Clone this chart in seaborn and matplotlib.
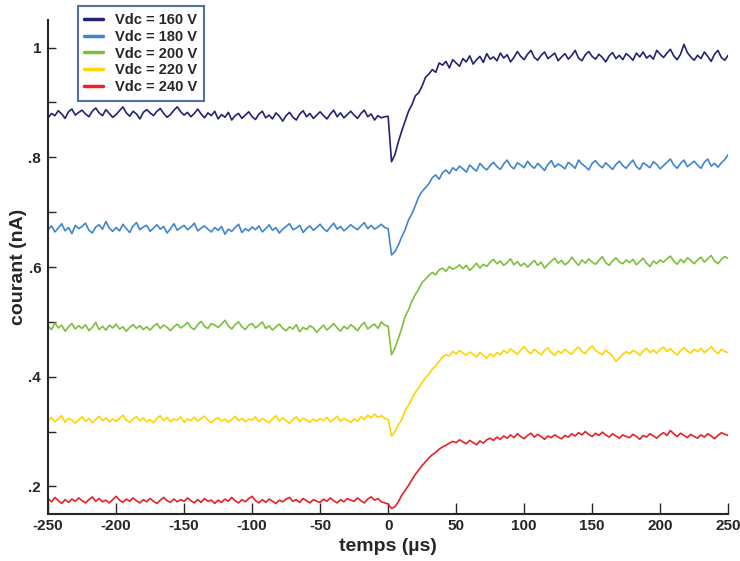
import numpy as np
import pandas as pd
import seaborn as sns
import matplotlib.pyplot as plt
from matplotlib.ticker import MultipleLocator

sns.set_style("ticks")
plt.rcParams["font.family"] = ["Liberation Sans", "DejaVu Sans"]
plt.rcParams["axes.unicode_minus"] = False

# time axis (µs), one reading every 2.5 µs
t = np.arange(-250, 250.1, 2.5)

labels = ["Vdc = 160 V", "Vdc = 180 V", "Vdc = 200 V", "Vdc = 220 V", "Vdc = 240 V"]
colors = ["#232372", "#3f86cb", "#7dbf3c", "#ffd400", "#e8202a"]

xtick_vals = [-250, -200, -150, -100, -50, 0, 50, 100, 150, 200, 250]
xtick_labels = ["-250", "-200", "-150", "-100", "-50", "0", "50", "100", "150", "200", "250"]
ytick_vals = [0.2, 0.4, 0.6, 0.8, 1.0]
ytick_labels = [".2", ".4", ".6", ".8", "1"]

# courant (nA)
i160 = [
    .872, .880, .876, .885, .879, .871, .883, .888, .877, .882,
    .886, .879, .874, .884, .890, .881, .876, .887, .880, .873,
    .878, .885, .892, .881, .875, .884, .879, .870, .882, .887,
    .881, .876, .884, .889, .880, .873, .878, .886, .892, .883,
    .877, .882, .874, .880, .888, .879, .872, .881, .876, .884,
    .870, .878, .873, .882, .868, .876, .880, .871, .877, .883,
    .874, .869, .879, .884, .872, .877, .870, .881, .875, .866,
    .876, .882, .873, .868, .879, .885, .874, .880, .871, .877,
    .883, .876, .870, .879, .886, .874, .881, .872, .878, .884,
    .877, .871, .880, .886, .874, .879, .868, .876, .872, .874,
    .875,
    .792, .805, .828, .848, .866, .884, .896, .912, .918, .930,
    .946, .952, .960, .955, .972, .968, .975, .963, .978, .972,
    .966, .980, .974, .985, .970, .978, .984, .973, .989, .979,
    .983, .976, .990, .981, .987, .974, .982, .993, .984, .978,
    .988, .995, .982, .977, .986, .992, .980, .985, .990, .976,
    .983, .989, .979, .986, .995, .981, .976, .987, .993, .984,
    .979, .988, .982, .974, .985, .991, .980, .986, .978, .989,
    .984, .977, .990, .983, .992, .981, .986, .979, .995, .988,
    .982, .990, .997, .985, .978, .988, 1.006, .991, .983, .977,
    .986, .980, .992, .984, .975, .988, .995, .982, .977, .986,
]
i180 = [
    .668, .675, .664, .671, .679, .666, .672, .661, .676, .670,
    .674, .680, .667, .662, .673, .677, .669, .683, .671, .665,
    .672, .666, .678, .670, .663, .675, .681, .668, .673, .676,
    .665, .671, .677, .669, .674, .662, .670, .679, .667, .672,
    .676, .668, .673, .680, .666, .671, .675, .669, .664, .672,
    .667, .674, .660, .669, .665, .672, .678, .663, .670, .666,
    .673, .668, .675, .664, .670, .677, .667, .672, .662, .669,
    .674, .679, .668, .671, .676, .663, .670, .675, .667, .672,
    .678, .670, .665, .673, .680, .669, .674, .666, .671, .677,
    .672, .668, .675, .681, .670, .676, .669, .673, .678, .672,
    .670,
    .622, .628, .640, .655, .668, .686, .697, .712, .728, .738,
    .745, .752, .763, .768, .760, .772, .777, .770, .781, .776,
    .784, .779, .773, .786, .780, .775, .789, .782, .777, .785,
    .791, .783, .778, .788, .795, .784, .779, .790, .786, .781,
    .793, .785, .780, .789, .783, .776, .787, .794, .782, .788,
    .784, .779, .791, .786, .780, .795, .788, .783, .777, .789,
    .794, .786, .781, .790, .784, .778, .787, .793, .785, .780,
    .788, .795, .783, .778, .790, .786, .781, .792, .787, .779,
    .785, .791, .797, .786, .780, .789, .795, .783, .788, .793,
    .786, .780, .791, .797, .784, .789, .782, .790, .796, .805,
]
i200 = [
    .492, .486, .498, .489, .494, .483, .491, .497, .487, .493,
    .488, .495, .484, .490, .499, .486, .492, .485, .494, .489,
    .496, .487, .491, .483, .490, .495, .488, .493, .486, .491,
    .485, .492, .497, .488, .494, .490, .484, .491, .496, .489,
    .493, .499, .490, .486, .495, .501, .492, .488, .497, .494,
    .490, .496, .503, .493, .487, .495, .500, .491, .486, .494,
    .497, .489, .494, .500, .488, .493, .485, .491, .496, .488,
    .484, .491, .487, .495, .482, .490, .486, .493, .489, .481,
    .488, .494, .485, .491, .497, .489, .483, .492, .487, .495,
    .490, .484, .493, .499, .487, .492, .496, .488, .500, .494,
    .492,
    .440, .452, .470, .488, .510, .522, .538, .550, .560, .572,
    .578, .585, .590, .586, .595, .598, .592, .601, .596, .599,
    .604, .597, .603, .594, .600, .607, .598, .605, .601, .609,
    .614, .606, .611, .603, .608, .615, .604, .610, .602, .607,
    .600, .606, .612, .603, .609, .598, .605, .611, .616, .607,
    .612, .604, .609, .618, .610, .603, .613, .607, .615, .609,
    .605, .612, .619, .608, .603, .611, .617, .609, .606, .613,
    .608, .614, .604, .610, .616, .607, .601, .611, .606, .613,
    .609, .615, .620, .611, .605, .614, .608, .617, .612, .606,
    .613, .618, .609, .615, .621, .611, .606, .614, .619, .616,
]
i220 = [
    .320, .326, .318, .323, .329, .317, .324, .321, .315, .322,
    .327, .319, .324, .316, .322, .328, .320, .325, .318, .323,
    .319, .324, .330, .321, .317, .323, .327, .320, .325, .318,
    .322, .316, .324, .329, .320, .326, .318, .323, .321, .327,
    .317, .323, .320, .326, .319, .324, .328, .321, .316, .322,
    .325, .319, .323, .317, .322, .328, .320, .324, .318, .323,
    .321, .327, .318, .324, .320, .316, .323, .329, .319, .325,
    .320, .315, .322, .327, .318, .324, .321, .317, .323, .319,
    .324, .320, .326, .318, .322, .328, .319, .324, .321, .317,
    .323, .319, .327, .322, .330, .325, .332, .326, .329, .324,
    .322,
    .292, .300, .312, .322, .338, .348, .360, .372, .380, .390,
    .398, .405, .414, .420, .428, .436, .440, .438, .446, .442,
    .448, .443, .439, .445, .441, .436, .444, .439, .434, .442,
    .437, .444, .440, .448, .443, .451, .446, .441, .449, .455,
    .447, .442, .450, .445, .440, .448, .453, .444, .439, .447,
    .443, .450, .445, .441, .449, .454, .446, .442, .451, .456,
    .448, .444, .440, .449, .443, .438, .428, .434, .441, .446,
    .442, .448, .445, .439, .447, .452, .444, .449, .443, .450,
    .454, .446, .451, .445, .440, .448, .453, .447, .443, .450,
    .446, .452, .444, .449, .455, .447, .442, .450, .446, .444,
]
i240 = [
    .178, .172, .180, .174, .169, .176, .171, .177, .173, .179,
    .174, .170, .176, .181, .173, .178, .172, .175, .170, .176,
    .182, .175, .171, .177, .173, .179, .174, .170, .176, .172,
    .178, .173, .169, .175, .180, .174, .171, .177, .172, .176,
    .173, .179, .174, .170, .176, .171, .178, .173, .175, .169,
    .175, .171, .177, .173, .180, .174, .170, .176, .172, .178,
    .182, .174, .170, .176, .171, .177, .173, .169, .175, .172,
    .177, .180, .173, .176, .171, .178, .174, .170, .176, .173,
    .171, .177, .173, .179, .174, .170, .176, .172, .178, .175,
    .173, .179, .174, .170, .177, .181, .175, .178, .172, .170,
    .168,
    .160, .163, .172, .184, .193, .202, .212, .222, .230, .238,
    .245, .252, .258, .262, .268, .272, .275, .279, .282, .280,
    .285, .281, .278, .284, .280, .276, .283, .279, .285, .288,
    .284, .290, .286, .292, .288, .294, .289, .296, .291, .287,
    .293, .297, .290, .295, .291, .286, .292, .289, .294, .290,
    .287, .293, .290, .296, .292, .298, .294, .300, .295, .291,
    .297, .293, .299, .294, .290, .296, .292, .288, .294, .291,
    .289, .295, .291, .286, .293, .290, .296, .292, .288, .294,
    .298, .293, .302, .296, .291, .297, .293, .289, .295, .291,
    .288, .294, .290, .296, .292, .287, .293, .298, .295, .293,
]

series = [i160, i180, i200, i220, i240]
frames = []
for lab, vals in zip(labels, series):
    frames.append(pd.DataFrame({"temps": t, "courant": vals, "serie": lab}))
df = pd.concat(frames, ignore_index=True)

fig = plt.figure(figsize=(7.4, 5.61), dpi=100)
ax = fig.add_axes([0.065, 0.084, 0.919, 0.88])

sns.lineplot(
    data=df, x="temps", y="courant", hue="serie",
    palette=colors, hue_order=labels,
    linewidth=1.2, errorbar=None, sort=False, ax=ax
)

ax.set_xlim(-250, 250)
ax.set_ylim(0.15, 1.05)

ax.set_xticks(xtick_vals)
ax.set_xticklabels(xtick_labels, fontsize=11, fontweight="bold")
ax.set_yticks(ytick_vals)
ax.set_yticklabels(ytick_labels, fontsize=11, fontweight="bold")
ax.yaxis.set_minor_locator(MultipleLocator(0.1))
ax.tick_params(axis="x", direction="in", length=8, width=1, pad=4)
ax.tick_params(axis="y", which="both", direction="in", length=6, width=1, pad=5)

ax.set_xlabel("temps (µs)", fontsize=14, fontweight="bold", labelpad=3)
ax.set_ylabel("courant (nA)", fontsize=14, fontweight="bold", labelpad=1)

sns.despine(ax=ax)
ax.spines["left"].set_linewidth(1.5)
ax.spines["bottom"].set_linewidth(1.5)

handles, labs = ax.get_legend_handles_labels()
leg = ax.legend(
    handles, labs, loc="upper left", bbox_to_anchor=(0.105, 0.989),
    bbox_transform=fig.transFigure, prop={"weight": "bold", "size": 10.5},
    frameon=True, fancybox=False, handlelength=1.3, handletextpad=0.8,
    labelspacing=0.2, borderpad=0.45, borderaxespad=0, title=None
)
leg.get_frame().set_edgecolor("#2b4c80")
leg.get_frame().set_linewidth(1.5)
for line in leg.get_lines():
    line.set_linewidth(2.5)

fig.savefig("out.png", dpi=100)
